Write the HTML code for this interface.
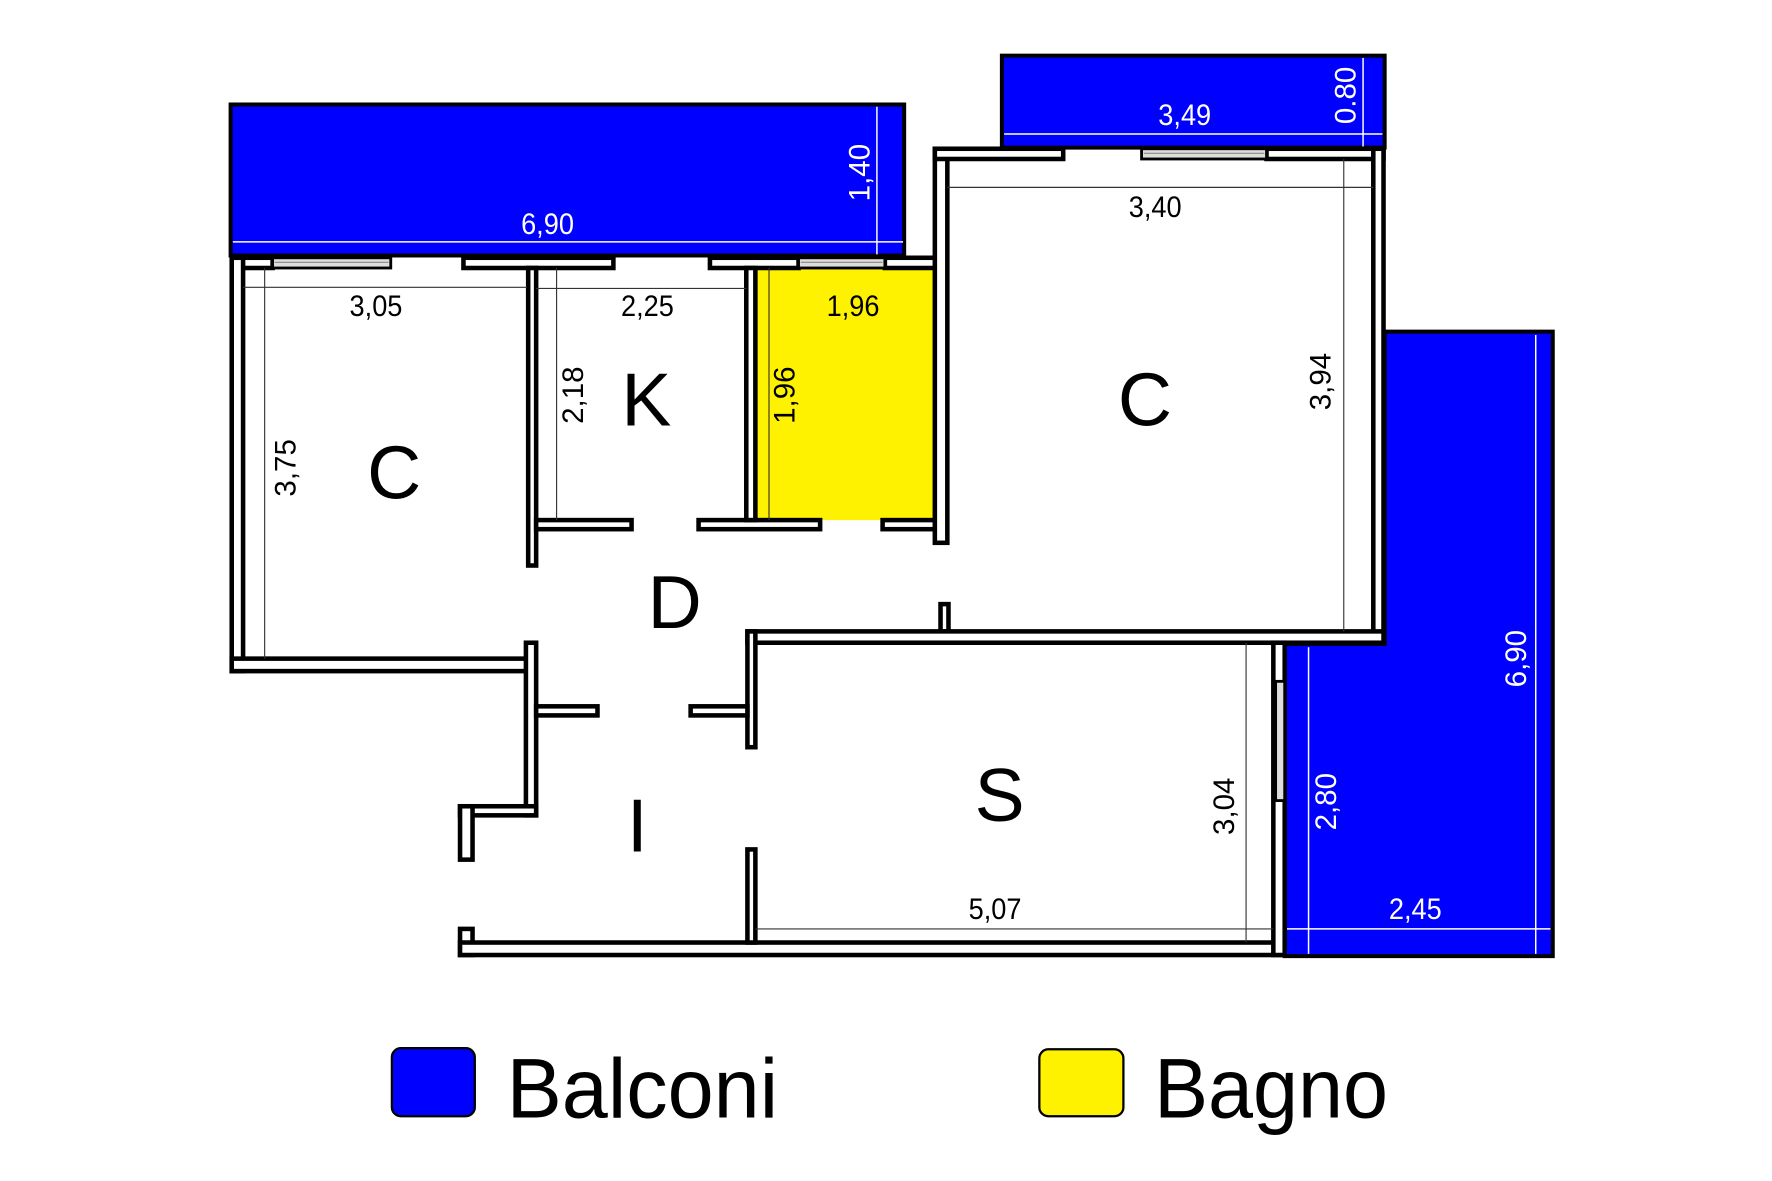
<!DOCTYPE html>
<html><head><meta charset="utf-8"><style>
html,body{margin:0;padding:0;background:#fff;}
svg{display:block;}
text{font-family:"Liberation Sans",sans-serif;}
</style></head><body>
<svg width="1772" height="1181" viewBox="0 0 1560 1040" preserveAspectRatio="none" xmlns="http://www.w3.org/2000/svg">
<rect width="1560" height="1040" fill="#fff"/>
<g fill="#0000ff" stroke="#000" stroke-width="3.5">
<rect x="203" y="92" width="593" height="133"/>
<rect x="882" y="49" width="337" height="81"/>
<polygon points="1219,292 1367,292 1367,842 1131,842 1131,567 1219,567"/>
</g>
<g stroke="#fff" stroke-width="1.3" fill="none">
<line x1="205" y1="213" x2="795" y2="213"/><line x1="772" y1="94" x2="772" y2="224"/>
<line x1="884" y1="118" x2="1217" y2="118"/><line x1="1200" y1="51" x2="1200" y2="129"/>
<line x1="1352" y1="295" x2="1352" y2="840"/><line x1="1133" y1="818" x2="1365" y2="818"/>
<line x1="1152" y1="570" x2="1152" y2="840"/>
</g>
<rect x="665" y="236" width="163" height="222" fill="#fff200"/>
<g fill="#fff" stroke="#000" stroke-width="4">
<rect x="205" y="227" width="35" height="9"/>
<rect x="408" y="227" width="132" height="9"/>
<rect x="625" y="227" width="78" height="9"/>
<rect x="779" y="227" width="51" height="9"/>
<rect x="204" y="227" width="10" height="364"/>
<rect x="204" y="580" width="267" height="11"/>
<rect x="465" y="236" width="7" height="262"/>
<rect x="463" y="566" width="9" height="152"/>
<rect x="405" y="710" width="67" height="8"/>
<rect x="405" y="710" width="11" height="47"/>
<rect x="405" y="818" width="11" height="23"/>
<rect x="405" y="830" width="725" height="11"/>
<rect x="472" y="458" width="84" height="8"/>
<rect x="615" y="458" width="107" height="8"/>
<rect x="777" y="458" width="51" height="8"/>
<rect x="657" y="236" width="8" height="222"/>
<rect x="823" y="131" width="11" height="347"/>
<rect x="828" y="532" width="7" height="24"/>
<rect x="823" y="131" width="113" height="9"/>
<rect x="1115" y="131" width="103" height="9"/>
<rect x="1209" y="131" width="9" height="435"/>
<rect x="658" y="556" width="560" height="10"/>
<rect x="658" y="556" width="7" height="102"/>
<rect x="658" y="748" width="7" height="82"/>
<rect x="1121" y="566" width="10" height="275"/>
<rect x="472" y="622" width="54" height="8"/>
<rect x="608" y="622" width="50" height="8"/>
</g>
<g fill="#ddd" stroke="#000" stroke-width="2.5">
<rect x="240" y="227" width="104" height="9"/>
<rect x="703" y="227" width="76" height="9"/>
<rect x="1005" y="131" width="110" height="9"/>
<rect x="1123" y="600" width="8" height="105"/>
</g>
<g stroke="#888" stroke-width="1" fill="none">
<line x1="242" y1="231" x2="342" y2="231"/><line x1="705" y1="231" x2="777" y2="231"/>
<line x1="1007" y1="135" x2="1113" y2="135"/>
</g>
<g stroke="#333" stroke-width="1" fill="none">
<line x1="214" y1="253" x2="464" y2="253"/><line x1="233" y1="236" x2="233" y2="580"/>
<line x1="472" y1="254" x2="657" y2="254"/><line x1="490" y1="236" x2="490" y2="458"/>
<line x1="677" y1="236" x2="677" y2="458"/>
<line x1="834" y1="165" x2="1209" y2="165"/><line x1="1183" y1="140" x2="1183" y2="556"/>
<line x1="1097" y1="566" x2="1097" y2="830"/><line x1="665" y1="818" x2="1121" y2="818"/>
</g>
<g font-size="26" text-anchor="middle" dominant-baseline="central" fill="#000">
<text x="331" y="270" transform="translate(331,0) scale(0.92,1) translate(-331,0)">3,05</text>
<text x="570" y="270" transform="translate(570,0) scale(0.92,1) translate(-570,0)">2,25</text>
<text x="751" y="270" transform="translate(751,0) scale(0.92,1) translate(-751,0)">1,96</text>
<text x="1017" y="183" transform="translate(1017,0) scale(0.92,1) translate(-1017,0)">3,40</text>
<text x="876" y="801" transform="translate(876,0) scale(0.92,1) translate(-876,0)">5,07</text>
<text transform="translate(252,412) rotate(-90)">3,75</text>
<text transform="translate(505,348) rotate(-90)">2,18</text>
<text transform="translate(691,348) rotate(-90)">1,96</text>
<text transform="translate(1163,336) rotate(-90)">3,94</text>
<text transform="translate(1078,710) rotate(-90)">3,04</text>
</g>
<g font-size="26" text-anchor="middle" dominant-baseline="central" fill="#fff">
<text x="482" y="198" transform="translate(482,0) scale(0.92,1) translate(-482,0)">6,90</text>
<text x="1043" y="102" transform="translate(1043,0) scale(0.92,1) translate(-1043,0)">3,49</text>
<text x="1246" y="801" transform="translate(1246,0) scale(0.92,1) translate(-1246,0)">2,45</text>
<text transform="translate(757,152) rotate(-90)">1,40</text>
<text transform="translate(1185,84) rotate(-90)">0.80</text>
<text transform="translate(1335,580) rotate(-90)">6,90</text>
<text transform="translate(1168,706) rotate(-90)">2,80</text>
</g>
<g font-size="66" text-anchor="middle" dominant-baseline="central" fill="#000">
<text x="347" y="416">C</text><text x="569" y="352">K</text><text x="1008" y="352">C</text>
<text x="594" y="530">D</text><text x="880" y="700">S</text><text x="561" y="727">I</text>
</g>
<rect x="345" y="923" width="73" height="60" rx="8" fill="#0000ff" stroke="#000" stroke-width="2"/>
<rect x="915" y="924" width="74" height="59" rx="8" fill="#fff200" stroke="#000" stroke-width="2"/>
<text x="446" y="984" font-size="74" fill="#000" textLength="239" lengthAdjust="spacingAndGlyphs">Balconi</text>
<text x="1016" y="984" font-size="74" fill="#000" textLength="206" lengthAdjust="spacingAndGlyphs">Bagno</text>
</svg>
</body></html>
